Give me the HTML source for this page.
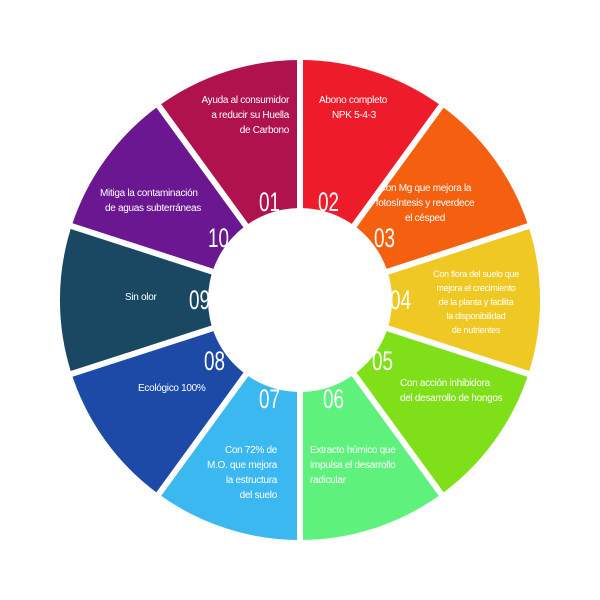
<!DOCTYPE html>
<html><head><meta charset="utf-8"><style>
html,body{margin:0;padding:0;background:#fff;}
svg{display:block;}
.t{font-family:"Liberation Sans",sans-serif;font-size:10px;fill:#fff;letter-spacing:-0.3px;}
.n{font-family:"Liberation Sans",sans-serif;font-size:27px;fill:#fff;font-weight:normal;}
</style></head><body>
<svg width="600" height="600" viewBox="0 0 600 600" xmlns="http://www.w3.org/2000/svg">
<path d="M300,300 L158.9,105.8 A240,240 0 0 1 300,60 Z" fill="#b0124e"/>
<path d="M300,300 L300,60 A240,240 0 0 1 441.1,105.8 Z" fill="#ee1c2a"/>
<path d="M300,300 L441.1,105.8 A240,240 0 0 1 528.3,225.8 Z" fill="#f4600f"/>
<path d="M300,300 L528.3,225.8 A240,240 0 0 1 528.3,374.2 Z" fill="#f0c823"/>
<path d="M300,300 L528.3,374.2 A240,240 0 0 1 441.1,494.2 Z" fill="#7fe01a"/>
<path d="M300,300 L441.1,494.2 A240,240 0 0 1 300,540 Z" fill="#5ef27c"/>
<path d="M300,300 L300,540 A240,240 0 0 1 158.9,494.2 Z" fill="#3bb8ef"/>
<path d="M300,300 L158.9,494.2 A240,240 0 0 1 71.7,374.2 Z" fill="#1c4aa6"/>
<path d="M300,300 L71.7,374.2 A240,240 0 0 1 71.7,225.8 Z" fill="#1a4863"/>
<path d="M300,300 L71.7,225.8 A240,240 0 0 1 158.9,105.8 Z" fill="#6a1791"/>
<g stroke="#fff" stroke-width="6">
<line x1="300" y1="300" x2="300" y2="50"/>
<line x1="300" y1="300" x2="447" y2="98"/>
<line x1="300" y1="300" x2="538" y2="223"/>
<line x1="300" y1="300" x2="538" y2="377"/>
<line x1="300" y1="300" x2="447" y2="502"/>
<line x1="300" y1="300" x2="300" y2="550"/>
<line x1="300" y1="300" x2="153" y2="502"/>
<line x1="300" y1="300" x2="62" y2="377"/>
<line x1="300" y1="300" x2="62" y2="223"/>
<line x1="300" y1="300" x2="153" y2="98"/>
</g>
<circle cx="300" cy="300" r="92" fill="#fff"/>
<g class="n">
<text x="259" y="211" textLength="21" lengthAdjust="spacingAndGlyphs">01</text>
<text x="318" y="211" textLength="21" lengthAdjust="spacingAndGlyphs">02</text>
<text x="374" y="247" textLength="21" lengthAdjust="spacingAndGlyphs">03</text>
<text x="390" y="309" textLength="21" lengthAdjust="spacingAndGlyphs">04</text>
<text x="372" y="370" textLength="21" lengthAdjust="spacingAndGlyphs">05</text>
<text x="323" y="408" textLength="21" lengthAdjust="spacingAndGlyphs">06</text>
<text x="259" y="408" textLength="21" lengthAdjust="spacingAndGlyphs">07</text>
<text x="204" y="370" textLength="21" lengthAdjust="spacingAndGlyphs">08</text>
<text x="189" y="309" textLength="21" lengthAdjust="spacingAndGlyphs">09</text>
<text x="208" y="247" textLength="21" lengthAdjust="spacingAndGlyphs">10</text>
</g>
<g class="t">
<text x="289" y="103" text-anchor="end">Ayuda al consumidor</text>
<text x="289" y="118" text-anchor="end">a  reducir su Huella</text>
<text x="289" y="133" text-anchor="end">de Carbono</text>
<text x="319" y="103">Abono completo</text>
<text x="332" y="118">NPK 5-4-3</text>
<text x="425" y="191" text-anchor="middle">Con Mg que mejora la</text>
<text x="425" y="206" text-anchor="middle">fotosíntesis y reverdece</text>
<text x="425" y="221" text-anchor="middle">el césped</text>
<text x="476" y="277" text-anchor="middle" style="font-size:9px">Con flora del suelo que</text>
<text x="476" y="291" text-anchor="middle" style="font-size:9px">mejora el crecimiento</text>
<text x="476" y="305" text-anchor="middle" style="font-size:9px">de la planta y facilita</text>
<text x="476" y="319" text-anchor="middle" style="font-size:9px">la disponibilidad</text>
<text x="476" y="333" text-anchor="middle" style="font-size:9px">de nutrientes</text>
<text x="400" y="386">Con acción inhibidora</text>
<text x="400" y="401">del desarrollo de hongos</text>
<text x="310" y="453">Extracto húmico que</text>
<text x="310" y="468">impulsa el desarrollo</text>
<text x="310" y="483">radicular</text>
<text x="277" y="453" text-anchor="end">Con 72% de</text>
<text x="277" y="468" text-anchor="end">M.O. que mejora</text>
<text x="277" y="483" text-anchor="end">la estructura</text>
<text x="277" y="498" text-anchor="end">del suelo</text>
<text x="138" y="391">Ecológico 100%</text>
<text x="125" y="300">Sin olor</text>
<text x="100" y="196">Mitiga la contaminación</text>
<text x="105" y="211">de aguas subterráneas</text>
</g>
</svg>
</body></html>
